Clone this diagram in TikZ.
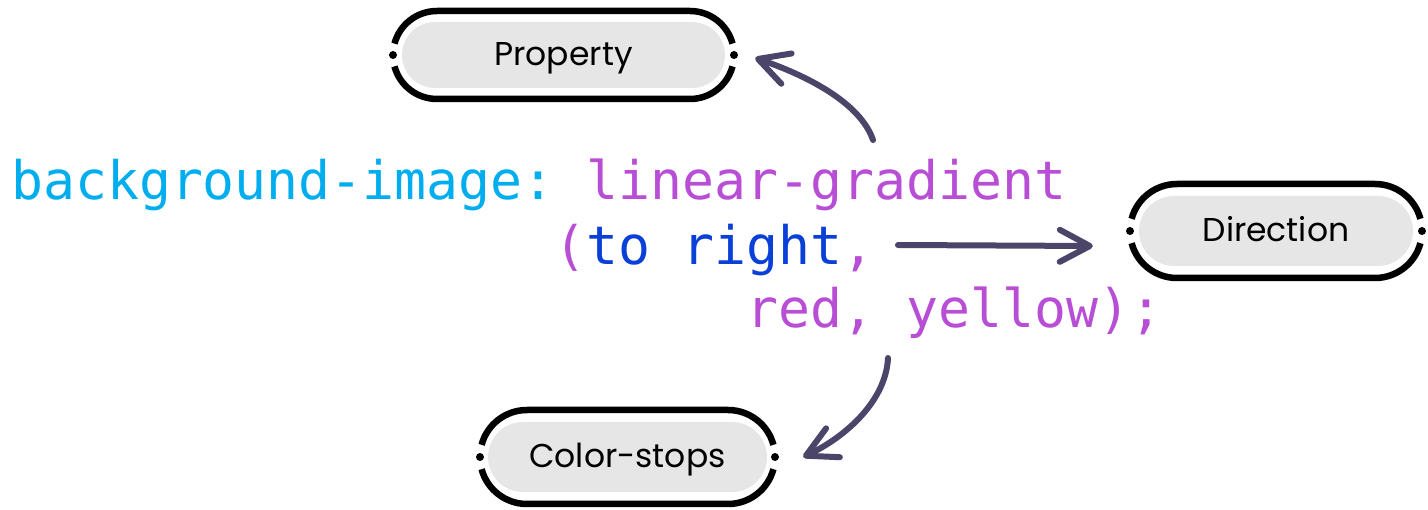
\documentclass[tikz,border=0pt]{standalone}
\usepackage{fontspec}
\setmainfont{Poppins}
\newfontfamily\codefont{DejaVu Sans Mono}
\usetikzlibrary{arrows.meta}
\definecolor{cyancode}{HTML}{00AEEF}
\definecolor{purpcode}{HTML}{B84ED6}
\definecolor{bluecode}{HTML}{0A40D8}
\definecolor{arrowc}{HTML}{4A4569}
\definecolor{pillgray}{HTML}{E6E6E6}
\newcommand\ringof[3]{%
  \begin{scope}[shift={(#1.center)}]
    \draw[ring] ({-(#2)+(#3)*cos(165)},{(#3)*sin(165)}) arc[start angle=165,end angle=90,radius=#3]
      -- ({#2},{#3}) arc[start angle=90,end angle=15,radius=#3];
    \draw[ring] ({-(#2)+(#3)*cos(195)},{(#3)*sin(195)}) arc[start angle=195,end angle=270,radius=#3]
      -- ({#2},{-(#3)}) arc[start angle=270,end angle=345,radius=#3];
    \fill ({-(#2)-(#3)},0) circle[radius=4];
    \fill ({(#2)+(#3)},0) circle[radius=4];
  \end{scope}}
\begin{document}
\begin{tikzpicture}[x=1pt,y=-1pt,
  pill/.style={fill=pillgray, inner sep=0pt, text height=22pt, text depth=0pt, font=\fontsize{33}{40}\selectfont},
  ring/.style={line width=6.5pt, line cap=butt, black},
  code/.style={anchor=base west, inner sep=0pt, font=\codefont\fontsize{53.1}{60}\selectfont},
  conn/.style={arrowc, line width=6pt, line cap=round, -{Straight Barb[length=30pt,width=32pt,round]}}]
\useasboundingbox (0,0) rectangle (1428,510);

% code lines
\node[code] (l1) at (11,200) {\textcolor{cyancode}{background-image:}\ \textcolor{purpcode}{linear-gradient}};
\node[code] (l2) at (554.5,265) {\textcolor{purpcode}{(}\textcolor{bluecode}{to right}\textcolor{purpcode}{,}};
\node[code] (l3) at (746.3,328) {\textcolor{purpcode}{red, yellow);}};

% pills
\node[pill, minimum width=323pt, minimum height=66pt, rounded corners=33pt] (prop) at (563.5,55) {Property};
\ringof{prop}{126.5}{44}
\node[pill, minimum width=274pt, minimum height=70pt, rounded corners=35pt] (dir) at (1276,231) {Direction};
\ringof{dir}{99}{47}
\node[pill, minimum width=279pt, minimum height=70pt, rounded corners=35pt] (cs) at (627.5,457) {Color-stops};
\ringof{cs}{100.5}{47}

% connectors
\coordinate (s1) at (873,140);
\coordinate (s2) at (898,245);
\coordinate (s3) at (888,358);
\draw[conn] (s1) .. controls +(-13,-38) and +(50,17) .. ([shift={(30,3)}]prop.east);
\draw[conn] (s2) -- ([shift={(-46,15)}]dir.west);
\draw[conn] (s3) .. controls +(-2,42) and +(44,-21) .. ([shift={(36,0)}]cs.east);
\end{tikzpicture}
\end{document}
